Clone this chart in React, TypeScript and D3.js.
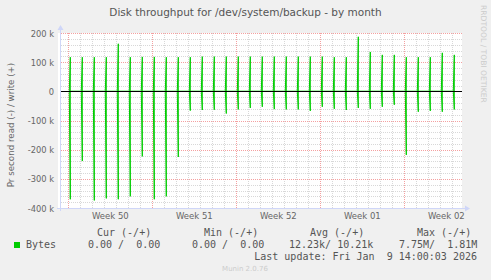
import React from "react";
import * as d3 from "d3";

const W = 491;
const H = 280;

// Daily spikes (04:00 UTC), Dec 8 2025 .. Jan 9 2026
const spikeDays = d3.utcDay.range(new Date(Date.UTC(2025, 11, 8)), new Date(Date.UTC(2026, 0, 10)));
const writeK = [117, 117, 117, 117, 163, 117, 118, 118, 117, 117, 117,
  119, 119, 119, 119, 119, 119, 119, 119, 119, 119, 119,
  117, 117, 187, 135, 125, 125, 117, 117, 117, 132, 125];
const readK = [370, 239, 374, 367, 370, 360, 223, 370, 360, 225, 66,
  64, 63, 76, 62, 57, 53, 61, 62, 62, 67, 53,
  60, 64, 57, 60, 53, 46, 218, 70, 67, 70, 62];

const yTicks = [200, 100, 0, -100, -200, -300, -400];
const yTickLabels = ["200 k", "100 k", "0", "-100 k", "-200 k", "-300 k", "-400 k"];
const weekLabels = ["Week 50", "Week 51", "Week 52", "Week 01", "Week 02"];

const legendHeaders = ["Cur (-/+)", "Min (-/+)", "Avg (-/+)", "Max (-/+)"];
const legendValues = ["0.00 /  0.00", "0.00 /  0.00", "12.23k/ 10.21k", "7.75M/  1.81M"];
const seriesName = "Bytes";
const lastUpdate = "Last update: Fri Jan  9 14:00:03 2026";

const t0 = new Date(Date.UTC(2025, 11, 7, 9, 24));
const t1 = new Date(Date.UTC(2026, 0, 9, 18, 24));

export default function App() {
  const x = d3.scaleUtc().domain([t0, t1]).range([61, 461.5]);
  const y = d3.scaleLinear().domain([-400, 200]).range([208, 33]);
  const H2 = 2 * 3600 * 1000;

  const mkPath = (vals: number[], sign: number) => {
    const pts: [number, number][] = [];
    spikeDays.forEach((d, i) => {
      const t = d.getTime() + 4 * 3600 * 1000;
      pts.push([x(new Date(t - H2)), y(0)]);
      pts.push([x(new Date(t)), y(sign * vals[i])]);
      pts.push([x(new Date(t + 60000)), y(0)]);
    });
    return d3.line()(pts) as string;
  };

  const minorY = d3.range(-400, 201, 20).filter((v) => v % 100 !== 0);
  const majorY = d3.range(-400, 201, 100);
  const days = d3.utcDay.range(t0, t1);
  const weeks = d3.utcMonday.range(t0, t1);
  const plotL = 61, plotR = 462, plotT = 33, plotB = 208;

  const legendHX = [97, 204, 310, 417];
  const legendVX = [88, 192, 289, 399];
  const mono = "'DejaVu Sans Mono', monospace";
  const sans = "'DejaVu Sans', sans-serif";

  return (
    <svg width={W} height={H} style={{ position: "absolute", left: 0, top: 0, background: "#F0F0F0" }}>
      <rect x={0} y={0} width={W} height={H} fill="#F0F0F0" />
      <rect x={58} y={plotT} width={plotR - 58} height={plotB - plotT} fill="#FFFFFF" />
      {/* minor grid */}
      {minorY.map((v) => (
        <line key={"my" + v} x1={plotL} x2={plotR} y1={Math.round(y(v)) + 0.5} y2={Math.round(y(v)) + 0.5}
          stroke="#D8D8D8" strokeDasharray="1,1" />
      ))}
      {days.map((d) => (
        <line key={"mx" + d.getTime()} x1={Math.round(x(d)) + 0.5} x2={Math.round(x(d)) + 0.5} y1={plotT} y2={plotB}
          stroke="#D8D8D8" strokeDasharray="1,1" />
      ))}
      {/* major grid */}
      {majorY.map((v) => (
        <line key={"My" + v} x1={plotL} x2={plotR} y1={Math.round(y(v)) + 0.5} y2={Math.round(y(v)) + 0.5}
          stroke="#F4A0A0" strokeDasharray="1,1" />
      ))}
      {weeks.map((d) => (
        <line key={"Mx" + d.getTime()} x1={Math.round(x(d)) + 0.5} x2={Math.round(x(d)) + 0.5} y1={plotT} y2={plotB}
          stroke="#F4A0A0" strokeDasharray="1,1" />
      ))}
      {/* axes */}
      <line x1={60.5} x2={60.5} y1={27} y2={plotB + 3} stroke="#CFD6F8" />
      <line x1={57} x2={467} y1={208.5} y2={208.5} stroke="#CFD6F8" />
      <path d="M57.5,30 L63.5,30 L60.5,25 Z" fill="#CFD6F8" />
      <path d="M465,205.5 L465,211.5 L470,208.5 Z" fill="#CFD6F8" />
      {/* data */}
      <path d={mkPath(writeK, 1)} fill="none" stroke="#00CC00" strokeWidth={1} />
      <path d={mkPath(readK, -1)} fill="none" stroke="#00CC00" strokeWidth={1} />
      <line x1={plotL} x2={plotR} y1={Math.round(y(0)) + 0.5} y2={Math.round(y(0)) + 0.5} stroke="#000000" />
      {/* y tick labels */}
      {yTicks.map((v, i) => (
        <text key={"yt" + v} x={54} y={y(v) + 3.5} textAnchor="end" fontFamily={sans} fontSize={8.3} fill="#666666">
          {yTickLabels[i]}
        </text>
      ))}
      {/* x labels */}
      {weeks.map((d, i) => (
        <text key={"wl" + i} x={x(new Date(d.getTime() + 3.5 * 86400000))} y={219} textAnchor="middle"
          fontFamily={sans} fontSize={8.5} fill="#666666">
          {weekLabels[i]}
        </text>
      ))}
      {/* title */}
      <text x={245.5} y={16} textAnchor="middle" fontFamily={sans} fontSize={10.5} fill="#555555">
        Disk throughput for /dev/system/backup - by month
      </text>
      {/* y axis label */}
      <text transform="translate(14,125) rotate(-90)" textAnchor="middle" fontFamily={sans} fontSize={8.7} fill="#666666">
        Pr second read (-) / write (+)
      </text>
      {/* rrdtool credit */}
      <text transform="translate(481,5) rotate(90)" textAnchor="start" fontFamily={sans} fontSize={7.6} fill="#CCCCCC">
        RRDTOOL / TOBI OETIKER
      </text>
      {/* legend */}
      {legendHeaders.map((h, i) => (
        <text key={"lh" + i} x={legendHX[i]} y={236} fontFamily={mono} fontSize={10} fill="#555555" style={{ whiteSpace: "pre" }}>
          {h}
        </text>
      ))}
      <rect x={14} y={242} width={6} height={6} fill="#00CC00" />
      <text x={26} y={248} fontFamily={mono} fontSize={10} fill="#555555">{seriesName}</text>
      {legendValues.map((v, i) => (
        <text key={"lv" + i} x={legendVX[i]} y={248} fontFamily={mono} fontSize={10} fill="#555555" style={{ whiteSpace: "pre" }}>
          {v}
        </text>
      ))}
      <text x={477} y={260} textAnchor="end" fontFamily={mono} fontSize={10} fill="#555555" style={{ whiteSpace: "pre" }}>
        {lastUpdate}
      </text>
      <text x={245} y={271} textAnchor="middle" fontFamily={sans} fontSize={7} fill="#CCCCCC">
        Munin 2.0.76
      </text>
    </svg>
  );
}
